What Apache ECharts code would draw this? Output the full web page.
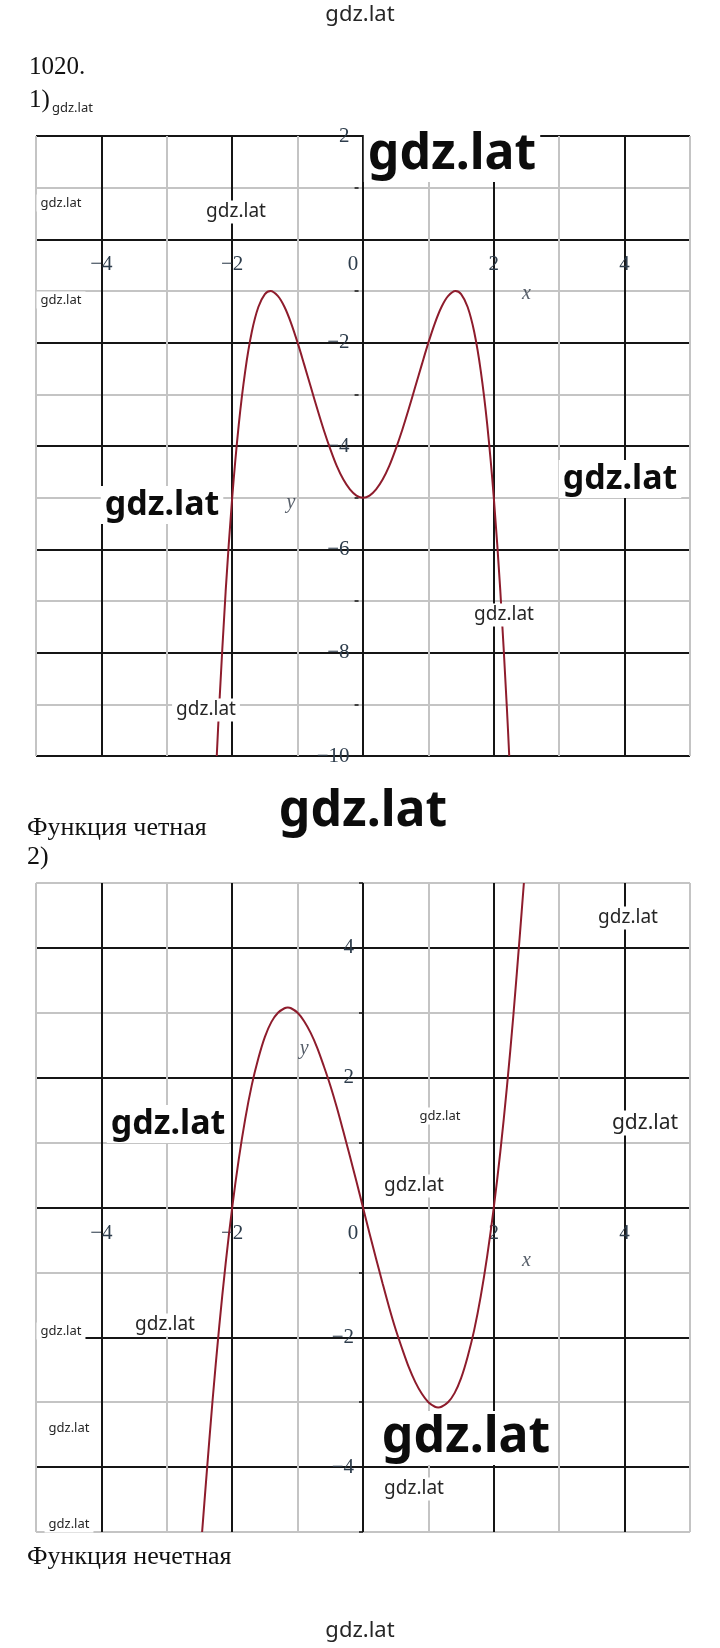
<!DOCTYPE html>
<html>
<head>
<meta charset="utf-8">
<script src="https://cdn.jsdelivr.net/npm/echarts@6/dist/echarts.min.js"></script>
<style>
html,body{margin:0;padding:0;background:#fff;}
#c{width:720px;height:1648px;}
</style>
</head>
<body>
<div id="c"></div>
<script>
// ---- data ----
// Chart 1 (even function)
const x1 = [-2.236,-2.2,-2.1,-2.0,-1.9,-1.8,-1.7,-1.6,-1.5,-1.414,-1.3,-1.2,-1.1,-1.0,-0.9,-0.8,-0.7,-0.6,-0.5,-0.4,-0.3,-0.2,-0.1,0,
            0.1,0.2,0.3,0.4,0.5,0.6,0.7,0.8,0.9,1.0,1.1,1.2,1.3,1.414,1.5,1.6,1.7,1.8,1.9,2.0,2.1,2.2,2.236];
const y1 = [-10,-9.07,-6.81,-5,-3.59,-2.54,-1.79,-1.31,-1.06,-1,-1.10,-1.31,-1.62,-2,-2.42,-2.85,-3.28,-3.69,-4.06,-4.39,-4.65,-4.84,-4.96,-5,
            -4.96,-4.84,-4.65,-4.39,-4.06,-3.69,-3.28,-2.85,-2.42,-2,-1.62,-1.31,-1.10,-1,-1.06,-1.31,-1.79,-2.54,-3.59,-5,-6.81,-9.07,-10];
// Chart 2 (odd function)
const x2 = [-2.46,-2.4,-2.3,-2.2,-2.1,-2.0,-1.9,-1.8,-1.7,-1.6,-1.5,-1.4,-1.3,-1.2,-1.15,-1.1,-1.0,-0.9,-0.8,-0.7,-0.6,-0.5,-0.4,-0.3,-0.2,-0.1,0,
            0.1,0.2,0.3,0.4,0.5,0.6,0.7,0.8,0.9,1.0,1.1,1.15,1.2,1.3,1.4,1.5,1.6,1.7,1.8,1.9,2.0,2.1,2.2,2.3,2.4,2.46];
const y2 = [-5,-4.22,-2.97,-1.85,-0.86,0,0.74,1.37,1.89,2.30,2.63,2.86,3.00,3.07,3.08,3.07,3,2.87,2.69,2.46,2.18,1.88,1.54,1.17,0.79,0.40,0,
            -0.40,-0.79,-1.17,-1.54,-1.88,-2.18,-2.46,-2.69,-2.87,-3,-3.07,-3.08,-3.07,-3.00,-2.86,-2.63,-2.30,-1.89,-1.37,-0.74,0,0.86,1.85,2.97,4.22,5];
// axis ranges / ticks
const xRange = [-5, 5];
const yRange1 = [-10, 2];
const yRange2 = [-5, 5];
const tickStep = 1;
const labelStep = 2;
const axisNames = ['x', 'y'];
// ---- end data ----

const pts = (xs, ys) => xs.map((v, i) => [v, ys[i]]);
const fmtNum = v => (v < 0 ? '\u2212' + Math.abs(v) : String(v));

const BLACK = '#151515', GRAY = '#c4c4c4';
const LABEL_COLOR = '#2e3d4c';
const SERIF = '"Liberation Serif","Times New Roman",serif';
const SANS = '"Noto Sans","DejaVu Sans",sans-serif';
const CURVE = '#8e1c2c';

function xAxisCfg(gridIndex) {
  return {
    type: 'value', gridIndex, min: xRange[0], max: xRange[1], interval: tickStep,
    position: 'bottom', offset: 0,
    axisLine: { show: false, onZero: false },
    axisTick: { show: false },
    splitLine: { show: true, lineStyle: { color: [GRAY, BLACK], width: 2 } },
    axisLabel: {
      margin: 15, color: LABEL_COLOR, fontFamily: SERIF, fontSize: 21,
      formatter: v => (v % labelStep !== 0 ? '' : (v === 0 ? '{z|0}' : fmtNum(v))),
      rich: { z: { padding: [0, 20, 0, 0], color: LABEL_COLOR, fontFamily: SERIF, fontSize: 21 } }
    }
  };
}
function yAxisCfg(gridIndex, rng, firstBlack) {
  return {
    type: 'value', gridIndex, min: rng[0], max: rng[1], interval: tickStep,
    position: 'left', offset: 0,
    axisLine: { show: false, onZero: false },
    axisTick: { show: true, length: 4, lineStyle: { color: BLACK, width: 1.5 } },
    splitLine: { show: true, lineStyle: { color: firstBlack ? [BLACK, GRAY] : [GRAY, BLACK], width: 2 } },
    axisLabel: {
      margin: 9, color: LABEL_COLOR, fontFamily: SERIF, fontSize: 21, padding: [6, 0, 0, 0],
      formatter: v => (v % labelStep !== 0 || v === 0 ? '' : fmtNum(v))
    }
  };
}

function wm(cx, cy, size, bold, bg, alignLeft) {
  return {
    type: 'text', x: cx, y: cy, z: 100,
    style: {
      text: 'gdz.lat',
      fontFamily: SANS,
      fontSize: size, fontWeight: bold ? 'bold' : 'normal',
      fill: bold ? '#0c0c0c' : '#262626',
      textAlign: alignLeft ? 'left' : 'center', textVerticalAlign: 'middle',
      align: alignLeft ? 'left' : 'center', verticalAlign: 'middle',
      backgroundColor: bg ? '#ffffff' : null,
      padding: bg ? [2, 4, 2, 4] : 0
    }
  };
}
function txt(x, cy, s, size) {
  return {
    type: 'text', x: x, y: cy, z: 100,
    style: {
      text: s, fontFamily: SERIF, fontSize: size, fill: '#111',
      textAlign: 'left', textVerticalAlign: 'middle', align: 'left', verticalAlign: 'middle'
    }
  };
}

const chart = echarts.init(document.getElementById('c'), null, { renderer: 'canvas' });
const option = {
  backgroundColor: '#ffffff',
  animation: false,
  grid: [
    { left: 36, top: 136, width: 654, height: 620 },
    { left: 36, top: 883, width: 654, height: 649 }
  ],
  xAxis: [xAxisCfg(0), xAxisCfg(1)],
  yAxis: [yAxisCfg(0, yRange1, true), yAxisCfg(1, yRange2, false)],
  series: [
    { type: 'line', xAxisIndex: 0, yAxisIndex: 0, data: pts(x1, y1), smooth: 0.3, showSymbol: false, clip: true,
      lineStyle: { color: CURVE, width: 2 }, z: 5 },
    { type: 'line', xAxisIndex: 1, yAxisIndex: 1, data: pts(x2, y2), smooth: 0.3, showSymbol: false, clip: true,
      lineStyle: { color: CURVE, width: 2 }, z: 5 },
    { type: 'scatter', xAxisIndex: 0, yAxisIndex: 0, symbolSize: 0, silent: true,
      data: [{ value: [2.5, -1.05], name: axisNames[0] }, { value: [-1.1, -5.1], name: axisNames[1] }],
      label: { show: true, position: 'inside', formatter: p => p.name, fontFamily: SERIF, fontStyle: 'italic', fontSize: 20, color: '#2a3542' } },
    { type: 'scatter', xAxisIndex: 1, yAxisIndex: 1, symbolSize: 0, silent: true,
      data: [{ value: [2.5, -0.82], name: axisNames[0] }, { value: [-0.9, 2.44], name: axisNames[1] }],
      label: { show: true, position: 'inside', formatter: p => p.name, fontFamily: SERIF, fontStyle: 'italic', fontSize: 20, color: '#2a3542' } }
  ],
  graphic: [
    txt(29, 67, '1020.', 25),
    txt(29, 100, '1)', 25),
    wm(52, 108, 13, false, false, true),
    txt(27, 828, 'Функция четная', 26),
    txt(27, 857, '2)', 26),
    txt(27, 1557, 'Функция нечетная', 26),
    wm(360, 15, 22, false, false),
    wm(452, 155, 50, true, true),
    wm(61, 203, 13, false, true),
    wm(236, 212, 19, false, true),
    wm(61, 300, 13, false, true),
    wm(162, 505, 34, true, true),
    wm(620, 479, 34, true, true),
    wm(504, 615, 19, false, true),
    wm(206, 710, 19, false, true),
    wm(363, 812, 50, true, false),
    wm(628, 918, 19, false, true),
    wm(168, 1124, 34, true, true),
    wm(440, 1116, 13, false, true),
    wm(645, 1123, 21, false, true),
    wm(414, 1186, 19, false, true),
    wm(61, 1331, 13, false, true),
    wm(165, 1325, 19, false, true),
    wm(69, 1428, 13, false, true),
    wm(466, 1438, 50, true, true),
    wm(414, 1489, 19, false, true),
    wm(69, 1524, 13, false, true),
    wm(360, 1631, 22, false, false)
  ]
};
chart.setOption(option);

// Move each axis onto the other axis's zero, using the library's own scales.
const yRanges = [yRange1, yRange2];
const xOff = [], yOff = [];
for (let g = 0; g < 2; g++) {
  const zero = chart.convertToPixel({ gridIndex: g }, [0, 0]);
  const corner = chart.convertToPixel({ gridIndex: g }, [xRange[0], yRanges[g][0]]);
  xOff.push(-(corner[1] - zero[1]));
  yOff.push(-(zero[0] - corner[0]));
}
chart.setOption({
  xAxis: [{ offset: xOff[0] }, { offset: xOff[1] }],
  yAxis: [{ offset: yOff[0] }, { offset: yOff[1] }]
});
</script>
</body>
</html>
